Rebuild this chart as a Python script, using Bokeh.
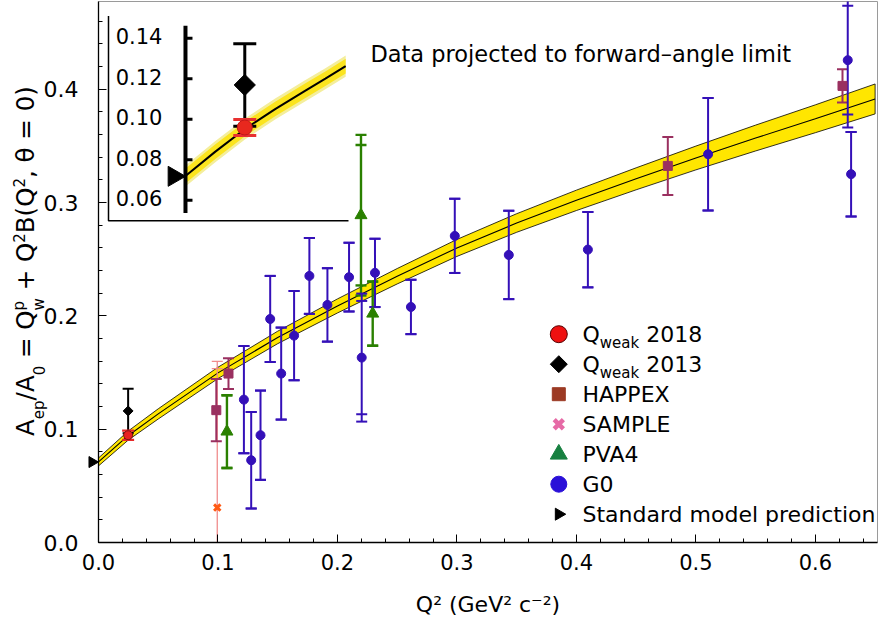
import numpy as np
from math import pi
from bokeh.plotting import figure
from bokeh.models import Range1d, Label, PrintfTickFormatter, SingleIntervalTicker
from bokeh.core.properties import value
from bokeh.embed import file_html
from bokeh.resources import INLINE

FONT = "DejaVu Sans"

# ---------------- data ----------------
# Standard-model band (main panel)
band_q2 = [0.0, 0.025, 0.05, 0.10, 0.15, 0.20, 0.25, 0.30, 0.35, 0.40, 0.45, 0.50, 0.55, 0.60, 0.65]
band_center = [0.0711, 0.0945, 0.1135, 0.1497, 0.1810, 0.2088, 0.2350, 0.2600, 0.2820, 0.3020,
               0.3210, 0.3394, 0.3570, 0.3740, 0.3915]
band_half = [0.0035, 0.0040, 0.0045, 0.0050, 0.0055, 0.0062, 0.0068, 0.0075, 0.0082, 0.0090,
             0.0097, 0.0105, 0.0114, 0.0123, 0.0132]

qweak18_q2 = [0.0248]
qweak18_val = [0.0947]
qweak18_err = [0.0041]

qweak13_q2 = [0.0248]
qweak13_val = [0.1161]
qweak13_err = [0.0197]

happex_q2 = [0.0986, 0.1088, 0.4765, 0.6227]
happex_val = [0.1168, 0.1491, 0.3324, 0.4030]
happex_err = [0.0275, 0.0136, 0.0256, 0.0147]

sample_q2 = [0.0994]
sample_val = [0.0308]
sample_err = [0.1290]
sample_err_inner = [0.1227]

pva4_q2 = [0.1075, 0.2197, 0.2295]
pva4_val = [0.0979, 0.2889, 0.2020]
pva4_err = [0.0321, 0.0709, 0.0283]
pva4_err_inner = [0.0321, 0.0620, 0.0283]

g0_q2 = [0.1217, 0.1278, 0.1356, 0.1437, 0.1529, 0.1637, 0.1765, 0.1916, 0.2097,
         0.2203, 0.2314, 0.2615, 0.2982, 0.3434, 0.4096, 0.5102, 0.6271, 0.6299]
g0_val = [0.1261, 0.0726, 0.0947, 0.1973, 0.1491, 0.1826, 0.2353, 0.2097, 0.2342,
          0.1632, 0.2380, 0.2079, 0.2706, 0.2538, 0.2585, 0.3427, 0.4257, 0.3251]
g0_err = [0.0474, 0.0426, 0.0394, 0.0380, 0.0406, 0.0394, 0.0335, 0.0324, 0.0303,
          0.0565, 0.0302, 0.0240, 0.0327, 0.0390, 0.0333, 0.0497, 0.0595, 0.0373]
g0_err_inner = [0.0474, 0.0426, 0.0394, 0.0380, 0.0406, 0.0394, 0.0335, 0.0324, 0.0303,
                0.0500, 0.0302, 0.0240, 0.0327, 0.0390, 0.0333, 0.0497, 0.0480, 0.0373]

sm_q2 = [0.0]
sm_val = [0.0710]

# Inset (zoom on low Q^2)
inset_band_q2 = [0.0, 0.0125, 0.025, 0.0375, 0.05, 0.0585, 0.067]
inset_band_center = [0.0720, 0.0840, 0.0953, 0.1050, 0.1140, 0.1200, 0.1262]
inset_ticks = [0.06, 0.08, 0.10, 0.12, 0.14]
inset_tick_labels = ["0.06", "0.08", "0.10", "0.12", "0.14"]
inset_qweak18_val = [0.0959]
inset_qweak18_err = [0.0040]
inset_qweak13_val = [0.1169]
inset_qweak13_err = [0.0204]
inset_sm_val = [0.0718]

legend_labels = ["2018", "2013", "HAPPEX", "SAMPLE", "PVA4", "G0", "Standard model prediction"]

# ---------------- layout ----------------
X_END, Y_END = 0.652, 0.4775
FW, FH = 779, 541
SX = FW / X_END
SY = FH / Y_END

p = figure(frame_width=FW, frame_height=FH, x_range=Range1d(0, X_END), y_range=Range1d(0, Y_END),
           output_backend="svg", toolbar_location=None,
           min_border_left=98, min_border_right=4, min_border_top=1, min_border_bottom=80,
           background_fill_color="white", border_fill_color="white")
p.grid.visible = False
p.outline_line_color = "#9a9a9a"
p.outline_line_width = 1

p.xaxis.ticker = SingleIntervalTicker(interval=0.1, num_minor_ticks=5)
p.yaxis.ticker = SingleIntervalTicker(interval=0.1, num_minor_ticks=5)
for ax in (p.xaxis[0], p.yaxis[0]):
    ax.axis_line_color = "black"
    ax.axis_line_width = 1.3
    ax.major_tick_in = 8
    ax.major_tick_out = 0
    ax.minor_tick_in = 4
    ax.minor_tick_out = 0
    ax.major_tick_line_color = "black"
    ax.minor_tick_line_color = "black"
    ax.major_label_text_font = FONT
    ax.major_label_text_color = "black"
    ax.formatter = PrintfTickFormatter(format="%.1f")
p.yaxis.major_label_text_font_size = "22px"
p.yaxis.major_label_standoff = 20
p.xaxis.major_label_text_font_size = "21px"
p.xaxis.major_label_standoff = 11
p.xaxis.axis_label = "Q\u00b2 (GeV\u00b2 c\u207b\u00b2)"
p.xaxis.axis_label_text_font = FONT
p.xaxis.axis_label_text_font_size = "22px"
p.xaxis.axis_label_text_font_style = "normal"
p.xaxis.axis_label_text_color = "black"
p.xaxis.axis_label_standoff = 19

# extra ranges: inset coordinates and frame-pixel coordinates (for the legend)
INSET_Q0_MAIN_X = 0.0728     # main-x where the inset's Q^2 = 0 axis sits
INSET_KX = 2391.0            # inset px per Q^2 unit
INSET_REF_V, INSET_REF_MAIN_Y = 0.14, 0.4451
INSET_KY = 2025.0            # inset px per asymmetry unit
ix0 = -INSET_Q0_MAIN_X * SX / INSET_KX
ix1 = ix0 + FW / INSET_KX
iy1 = INSET_REF_V + (Y_END - INSET_REF_MAIN_Y) * SY / INSET_KY
iy0 = iy1 - FH / INSET_KY
p.extra_x_ranges = {"ix": Range1d(ix0, ix1), "px": Range1d(0, FW)}
p.extra_y_ranges = {"iy": Range1d(iy0, iy1), "py": Range1d(0, FH)}

# ---------------- main band ----------------
bq = np.array(band_q2)
bc = np.array(band_center)
bh = np.array(band_half)
p.patch(np.r_[bq, bq[::-1]], np.r_[bc + bh, (bc - bh)[::-1]],
        fill_color="#ffe600", line_color="black", line_width=0.8)
p.line(bq, bc, line_color="black", line_width=1.1)


def errbars(q, v, e, color, lw, cap, inner=None, xr="default", yr="default", cap_color=None):
    q = np.array(q, dtype=float)
    v = np.array(v, dtype=float)
    e = np.array(e, dtype=float)
    cc = cap_color or color
    p.segment(q, v - e, q, v + e, line_color=color, line_width=lw,
              x_range_name=xr, y_range_name=yr)
    p.scatter(np.r_[q, q], np.r_[v - e, v + e], marker="dash", size=cap,
              line_color=cc, line_width=lw, x_range_name=xr, y_range_name=yr)
    if inner is not None:
        ie = np.array(inner, dtype=float)
        p.scatter(np.r_[q, q], np.r_[v - ie, v + ie], marker="dash", size=cap,
                  line_color=cc, line_width=lw, x_range_name=xr, y_range_name=yr)


G0_C = "#3410b8"
HAP_C = "#9a3060"
PVA_C = "#2a8000"

errbars(sample_q2, sample_val, sample_err, "#f08c8c", 1.3, 11, inner=sample_err_inner)
errbars(happex_q2, happex_val, happex_err, HAP_C, 2, 11)
errbars(pva4_q2, pva4_val, pva4_err, PVA_C, 2.4, 11, inner=pva4_err_inner)
errbars(g0_q2, g0_val, g0_err, G0_C, 2, 11, inner=g0_err_inner)
errbars(qweak13_q2, qweak13_val, qweak13_err, "black", 2, 11)
errbars(qweak18_q2, qweak18_val, qweak18_err, "#e62828", 2.2, 12)

p.scatter(g0_q2, g0_val, marker="circle", size=9, fill_color=G0_C, line_color=G0_C)
p.scatter(happex_q2, happex_val, marker="square", size=9, fill_color=HAP_C, line_color=HAP_C)
p.scatter(pva4_q2, pva4_val, marker="triangle", size=12, fill_color=PVA_C, line_color=PVA_C)
p.scatter(sample_q2, sample_val, marker="x", size=9, line_color="#ff5a14", line_width=3)
p.scatter(qweak13_q2, qweak13_val, marker="square", angle=pi / 4, size=7,
          fill_color="black", line_color="black")
p.scatter(qweak18_q2, qweak18_val, marker="circle", size=9, fill_color="#e82020",
          line_color="#7a1010", line_width=1)
sm_r = p.scatter(np.array(sm_q2) - 0.577 * 11 / SX, sm_val, marker="triangle", angle=-pi / 2,
                 size=11, fill_color="black", line_color="black")
sm_r.level = "overlay"

# ---------------- inset ----------------
BOX_L, BOX_R, BOX_B, BOX_T = 10 / SX, 250 / SX, 0.2840, 0.4648
p.line([BOX_L, BOX_L, BOX_R], [BOX_T, BOX_B, BOX_B], line_color="black", line_width=1.5)

iq = np.array(inset_band_q2)
ic = np.array(inset_band_center)
IH_HALO, IH_SOLID = 0.0052, 0.0036
p.patch(np.r_[iq, iq[::-1]], np.r_[ic + IH_HALO, (ic - IH_HALO)[::-1]], fill_color="#f4ee9c",
        line_color=None, x_range_name="ix", y_range_name="iy")
p.patch(np.r_[iq, iq[::-1]], np.r_[ic + IH_SOLID, (ic - IH_SOLID)[::-1]], fill_color="#fbe41e",
        line_color=None, x_range_name="ix", y_range_name="iy")
p.line(iq, ic, line_color="black", line_width=2, x_range_name="ix", y_range_name="iy")

# inset axis
IAX_LO, IAX_HI = 0.0537, 0.1461
p.segment([0.0], [IAX_LO], [0.0], [IAX_HI], line_color="black", line_width=4,
          x_range_name="ix", y_range_name="iy")
itk = np.array(inset_ticks)
p.segment(np.zeros_like(itk), itk, np.zeros_like(itk) + 7 / INSET_KX, itk, line_color="black",
          line_width=3, x_range_name="ix", y_range_name="iy")
p.text(np.zeros_like(itk), itk, text=inset_tick_labels, x_offset=-23, y_offset=-2,
       text_align="right", text_baseline="middle", text_font=value(FONT),
       text_font_size=value("21px"), text_color="black", x_range_name="ix", y_range_name="iy")

errbars(qweak18_q2, inset_qweak13_val, inset_qweak13_err, "black", 3, 23, xr="ix", yr="iy")
errbars(qweak18_q2, inset_qweak18_val, inset_qweak18_err, "#e83030", 3, 23, xr="ix", yr="iy")
p.scatter(qweak18_q2, inset_qweak13_val, marker="square", angle=pi / 4, size=15,
          fill_color="black", line_color="black", x_range_name="ix", y_range_name="iy")
p.scatter(qweak18_q2, inset_qweak18_val, marker="circle", size=15, fill_color="#e8281e",
          line_color="#c01818", x_range_name="ix", y_range_name="iy")
p.scatter(np.array(sm_q2) - 0.577 * 20 / INSET_KX, inset_sm_val, marker="triangle",
          angle=-pi / 2, size=20, fill_color="black", line_color="black",
          x_range_name="ix", y_range_name="iy")

p.add_layout(Label(x=0.2276, y=0.4312, text="Data projected to forward\u2013angle limit",
                   text_font=FONT, text_font_size="22.5px", text_color="black",
                   text_baseline="middle", text_align="left"))

# ---------------- legend (drawn in frame-pixel coordinates) ----------------
ROW0, DROW = 208.3, 30.0
MX, TX = 460.3, 484.0
rows = [ROW0 - k * DROW for k in range(7)]
leg_markers = [
    dict(marker="circle", size=17, fill_color="#ee1111", line_color="#550000", line_width=1),
    dict(marker="square", angle=pi / 4, size=12, fill_color="black", line_color="black"),
    dict(marker="square", size=13, fill_color="#9c3a24", line_color="#9c3a24"),
    dict(marker="x", size=13, fill_color=None, line_color="#e66aa6", line_width=4.5),
    dict(marker="triangle", size=17, fill_color="#178040", line_color="#178040"),
    dict(marker="circle", size=16, fill_color="#2a10d8", line_color="#2a10d8"),
    dict(marker="triangle", angle=-pi / 2, size=12, fill_color="black", line_color="black"),
]
for ry, kw in zip(rows, leg_markers):
    p.scatter([MX], [ry], x_range_name="px", y_range_name="py", **kw)

ADV = {"Q": 1612, "w": 1675, "e": 1260, "a": 1255, "k": 1186, " ": 651}
q_w = ADV["Q"] * 22 / 2048
weak_w = sum(ADV[c] for c in "weak") * 15 / 2048
sp_w = ADV[" "] * 22 / 2048
main_x, main_y, main_t = [], [], []
sub_x, sub_y, sub_t = [], [], []
for i, (ry, lab) in enumerate(zip(rows, legend_labels)):
    if i < 2:
        main_x += [TX, TX + q_w + weak_w + sp_w]
        main_y += [ry, ry]
        main_t += ["Q", lab]
        sub_x.append(TX + q_w)
        sub_y.append(ry - 9)
        sub_t.append("weak")
    else:
        main_x.append(TX)
        main_y.append(ry)
        main_t.append(lab)
p.text(main_x, main_y, text=main_t, text_font=value(FONT), text_font_size=value("22px"),
       text_baseline="middle", text_align="left", text_color="black",
       x_range_name="px", y_range_name="py")
p.text(sub_x, sub_y, text=sub_t, text_font=value(FONT), text_font_size=value("15px"),
       text_baseline="middle", text_align="left", text_color="black",
       x_range_name="px", y_range_name="py")

# ---------------- y-axis label (rotated pieces with sub/superscripts) ----------------
YADV = {"A": 1401, "e": 1260, "p": 1300, "/": 690, "0": 1303, " ": 651, "=": 1716, "Q": 1612,
        "w": 1675, "+": 1716, "2": 1303, "B": 1405, "(": 799, ")": 799, ",": 651, "\u03b8": 1253}
SIZES = {"main": 24.5, "sub": 15, "sup": 15}
CENTER_X = {"main": -73, "sub": -60, "sup": -80}
pieces = [("A", "main", True), ("ep", "sub", True), ("/A", "main", True), ("0", "sub", True),
          (" = Q", "main", True), ("p", "sup", False), ("w", "sub", True), (" + Q", "main", True),
          ("2", "sup", True), ("B(Q", "main", True), ("2", "sup", True),
          (", \u03b8 = 0)", "main", True)]
Y0_LABEL = 0.0941
lab = {"main": ([], [], []), "small": ([], [], [])}
cum = 0.0
for txt, kind, adv in pieces:
    size = SIZES[kind]
    lead = len(txt) - len(txt.lstrip(" "))
    start = cum + lead * YADV[" "] * size / 2048
    grp = lab["main" if kind == "main" else "small"]
    grp[0].append(txt.lstrip(" "))
    grp[1].append(CENTER_X[kind])
    grp[2].append(-start)
    if adv:
        cum += sum(YADV[c] for c in txt) * size / 2048
for key, fs in (("main", "24.5px"), ("small", "15px")):
    t, xo, yo = lab[key]
    r = p.text(x=[0.0] * len(t), y=[Y0_LABEL] * len(t), text=t, x_offset=xo, y_offset=yo,
               angle=pi / 2, text_align="left", text_baseline="middle",
               text_font=value(FONT), text_font_size=value(fs), text_color="black")
    r.level = "overlay"

open("out.html", "w").write(file_html(p, INLINE))
